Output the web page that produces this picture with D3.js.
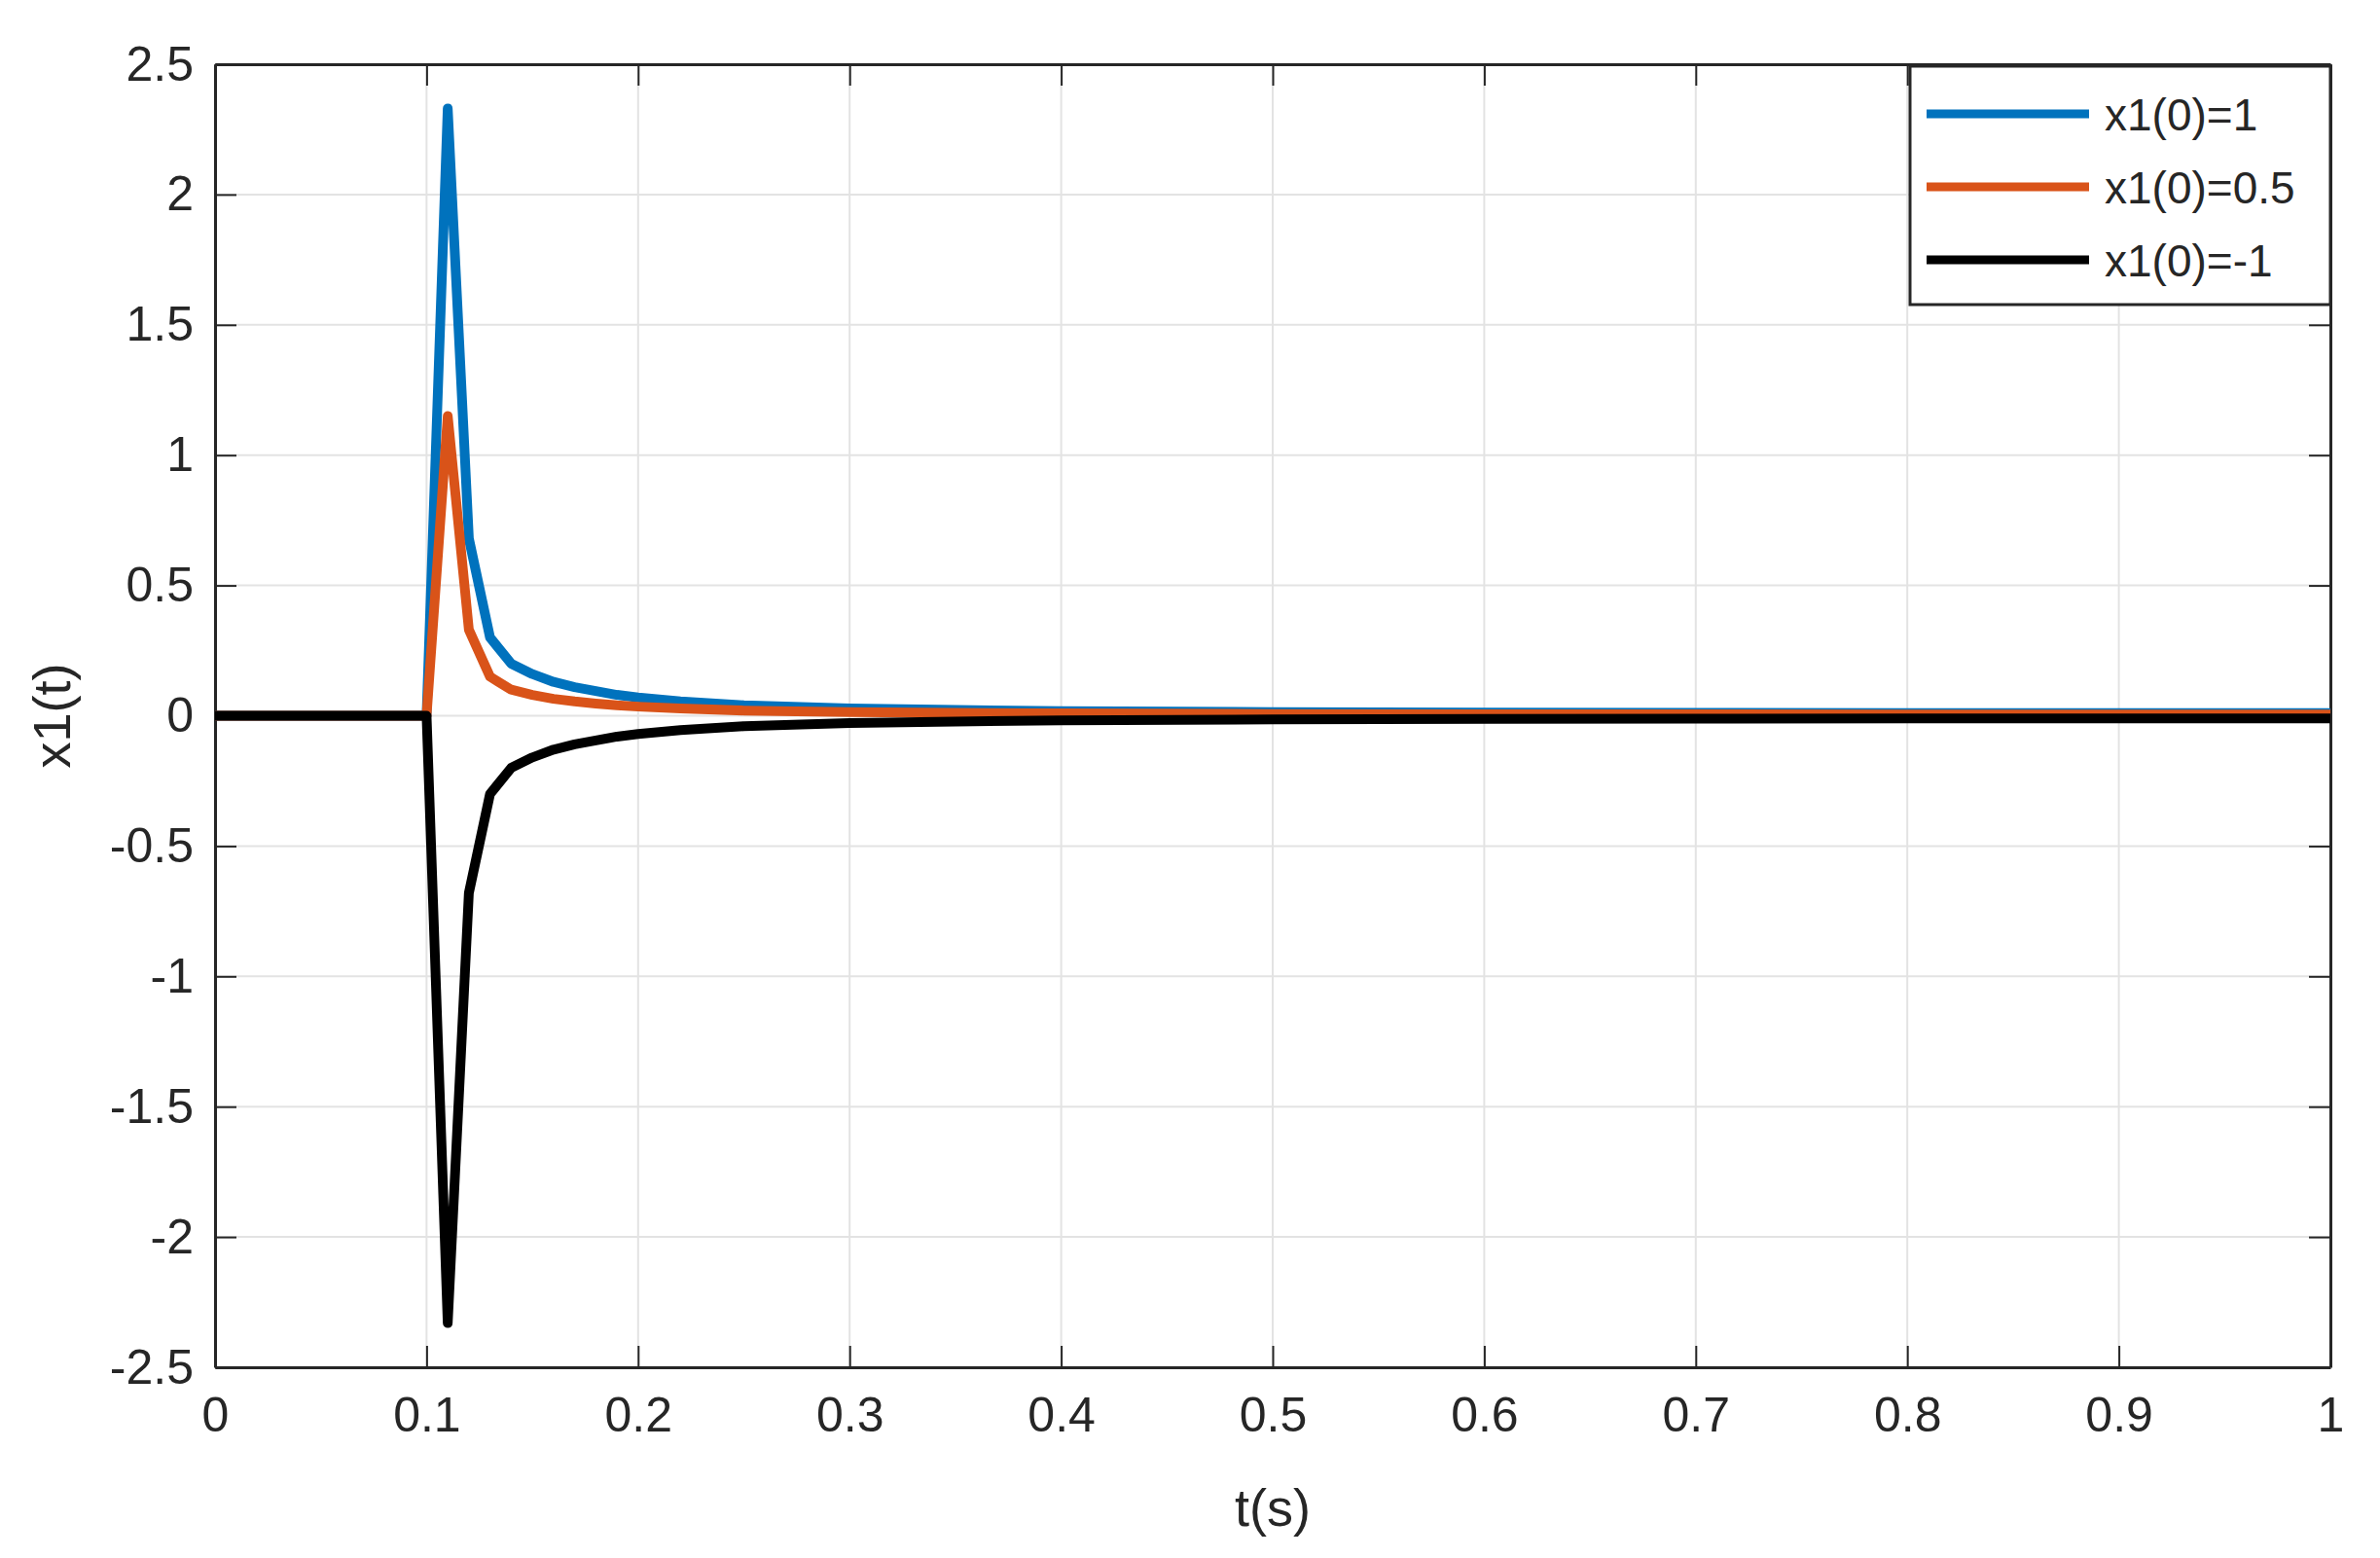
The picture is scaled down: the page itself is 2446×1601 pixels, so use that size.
<!DOCTYPE html>
<html><head><meta charset="utf-8">
<script src="https://cdn.jsdelivr.net/npm/d3@7"></script>
<style>body{margin:0;background:#fff}</style>
</head><body><svg id="c" width="2446" height="1601"></svg>
<script>
const tVals = [0,0.05,0.1,0.11,0.12,0.13,0.14,0.15,0.16,0.17,0.18,0.19,0.2,0.22,0.25,0.3,0.35,0.4,0.5,0.6,0.7,0.8,0.9,1.0];
const s1 = [0,0,0,2.33,0.68,0.3,0.2,0.16,0.13,0.11,0.095,0.08,0.07,0.055,0.04,0.028,0.022,0.018,0.014,0.012,0.011,0.01,0.01,0.01];
const s05 = [0,0,0,1.15,0.33,0.15,0.1,0.08,0.065,0.055,0.047,0.04,0.035,0.028,0.02,0.014,0.011,0.009,0.007,0.006,0.0055,0.005,0.005,0.005];
const sm1 = [0,0,0,-2.33,-0.68,-0.3,-0.2,-0.16,-0.13,-0.11,-0.095,-0.08,-0.07,-0.055,-0.04,-0.028,-0.022,-0.018,-0.014,-0.012,-0.011,-0.01,-0.01,-0.01];
const names = ['x1(0)=1','x1(0)=0.5','x1(0)=-1'];
const colors = ['#0072BD','#D95319','#000000'];
const xTicks = [0,0.1,0.2,0.3,0.4,0.5,0.6,0.7,0.8,0.9,1];
const yTicks = [-2.5,-2,-1.5,-1,-0.5,0,0.5,1,1.5,2,2.5];

const L = 221, R = 2395, T = 66, B = 1405;
const svg = d3.select('#c');
const x = d3.scaleLinear().domain([0,1]).range([L,R]);
const y = d3.scaleLinear().domain([-2.5,2.5]).range([B,T]);
const font = 'Liberation Sans, Arial, sans-serif';

// grid
svg.append('g').selectAll('line').data(xTicks).join('line')
  .attr('x1', d => x(d)).attr('x2', d => x(d)).attr('y1', T).attr('y2', B)
  .attr('stroke', '#e3e3e3').attr('stroke-width', 2);
svg.append('g').selectAll('line').data(yTicks).join('line')
  .attr('y1', d => y(d)).attr('y2', d => y(d)).attr('x1', L).attr('x2', R)
  .attr('stroke', '#e3e3e3').attr('stroke-width', 2);

// axes
const fmt = d => String(d);
svg.append('g').attr('transform', 'translate(0,' + B + ')')
  .call(d3.axisBottom(x).tickValues(xTicks).tickFormat(fmt).tickSizeInner(-22).tickSizeOuter(0).tickPadding(30));
svg.append('g').attr('transform', 'translate(' + L + ',0)')
  .call(d3.axisLeft(y).tickValues(yTicks).tickFormat(fmt).tickSizeInner(-22).tickSizeOuter(0).tickPadding(22));
svg.append('g').attr('transform', 'translate(0,' + T + ')')
  .call(d3.axisTop(x).tickValues(xTicks).tickFormat('').tickSizeInner(-22).tickSizeOuter(0));
svg.append('g').attr('transform', 'translate(' + R + ',0)')
  .call(d3.axisRight(y).tickValues(yTicks).tickFormat('').tickSizeInner(-22).tickSizeOuter(0));
svg.selectAll('.domain').attr('stroke', '#262626').attr('stroke-width', 3);
svg.selectAll('.tick line').attr('stroke', '#262626').attr('stroke-width', 2);
svg.selectAll('.tick text').attr('font-family', font).attr('font-size', 50).attr('fill', '#262626');

// lines
const series = [s1, s05, sm1];
const line = d3.line().x((d, i) => x(tVals[i])).y(d => y(d));
svg.append('g').selectAll('path').data(series).join('path')
  .attr('d', d => line(d)).attr('fill', 'none')
  .attr('stroke', (d, i) => colors[i]).attr('stroke-width', 10).attr('stroke-linejoin', 'round');

// labels
svg.append('text').attr('x', (L + R) / 2).attr('y', 1568).attr('text-anchor', 'middle')
  .attr('font-family', font).attr('font-size', 54).attr('fill', '#262626').text('t(s)');
svg.append('text').attr('transform', 'translate(72,' + (T + B) / 2 + ') rotate(-90)')
  .attr('text-anchor', 'middle').attr('font-family', font).attr('font-size', 54).attr('fill', '#262626').text('x1(t)');

// legend
const lg = svg.append('g');
lg.append('rect').attr('x', 1963).attr('y', 68).attr('width', 432).attr('height', 245)
  .attr('fill', '#fff').attr('stroke', '#262626').attr('stroke-width', 3);
names.forEach((n, i) => {
  const yy = 117 + i * 75;
  lg.append('line').attr('x1', 1980).attr('x2', 2147).attr('y1', yy).attr('y2', yy)
    .attr('stroke', colors[i]).attr('stroke-width', 9);
  lg.append('text').attr('x', 2163).attr('y', yy + 17).attr('font-family', font)
    .attr('font-size', 46).attr('fill', '#262626').text(n);
});
</script></body></html>
